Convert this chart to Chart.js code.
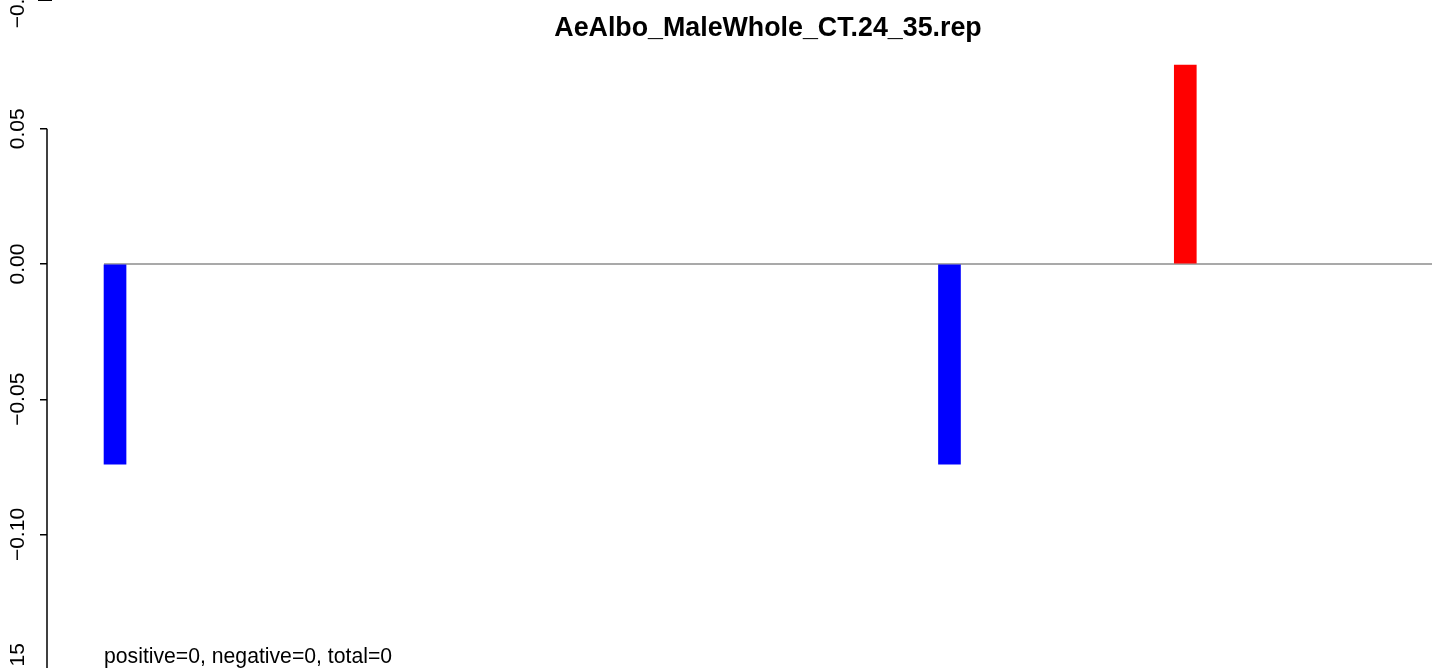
<!DOCTYPE html>
<html>
<head>
<meta charset="utf-8">
<script src="https://cdn.jsdelivr.net/npm/chart.js@4/dist/chart.umd.min.js"></script>
<style>
  html, body { margin: 0; padding: 0; background: #fff; }
  canvas { display: block; }
</style>
</head>
<body>
<canvas id="repChart" width="1439" height="668"></canvas>
<script>
// data
const chartTitle = "AeAlbo_MaleWhole_CT.24_35.rep";
const noteText = "positive=0, negative=0, total=0";
const positions = [7.5, 99.5, 125.5];
const values = [-0.074, -0.074, 0.0735];
const yTicks = [-0.15, -0.10, -0.05, 0.00, 0.05];
const yTickLabels = ["\u22120.15", "\u22120.10", "\u22120.05", "0.00", "0.05"];
const xMax = 152.7;
const yMin = -0.14935;
const yMax = 0.0976;

const FONT = "'Liberation Sans', Arial, Helvetica, sans-serif";
const BAR_W = 22;

const points = positions.map((p, i) => ({ x: p, y: values[i] }));

// draws the R-style bits: axis line, rotated labels, zero line, title, note
const rStyle = {
  id: "rStyle",
  beforeDatasetsDraw(chart) {
    const { ctx, chartArea } = chart;
    const xs = chart.scales.x;
    const ys = chart.scales.y;
    const left = xs.getPixelForValue(positions[0]) - BAR_W / 2;
    const y0 = ys.getPixelForValue(0);
    ctx.save();
    ctx.strokeStyle = "#8c8c8c";
    ctx.lineWidth = 1.6;
    ctx.beginPath();
    ctx.moveTo(left, y0);
    ctx.lineTo(chartArea.right, y0);
    ctx.stroke();
    ctx.restore();
  },
  afterDraw(chart) {
    const { ctx, chartArea } = chart;
    const xs = chart.scales.x;
    const ys = chart.scales.y;
    const H = chart.height;
    const axisX = ys.right;
    const left = xs.getPixelForValue(positions[0]) - BAR_W / 2;

    ctx.save();
    // axis line from top tick to bottom tick
    ctx.strokeStyle = "#000";
    ctx.lineWidth = 1.5;
    ctx.beginPath();
    ctx.moveTo(axisX, ys.getPixelForValue(yTicks[yTicks.length - 1]));
    ctx.lineTo(axisX, ys.getPixelForValue(yTicks[0]));
    ctx.stroke();

    // rotated tick labels (the lowest one wraps round to the top edge)
    ctx.fillStyle = "#000";
    ctx.font = "21px " + FONT;
    ctx.textAlign = "center";
    ctx.textBaseline = "alphabetic";
    yTicks.forEach((v, i) => {
      const py = ys.getPixelForValue(v);
      const spots = py > H ? [py, py - H] : [py];
      spots.forEach((sy) => {
        ctx.save();
        ctx.translate(24, sy);
        ctx.rotate(-Math.PI / 2);
        ctx.fillText(yTickLabels[i], 0, 0);
        ctx.restore();
      });
      if (py > H) {
        ctx.beginPath();
        ctx.moveTo(axisX - 9, py - H - 1.5);
        ctx.lineTo(axisX + 5, py - H - 1.5);
        ctx.stroke();
      }
    });

    // title centred on the plot region
    ctx.font = "bold 26.8px " + FONT;
    ctx.textAlign = "center";
    ctx.fillText(chartTitle, (left + chartArea.right) / 2, 36);

    // note at the bottom
    ctx.font = "21.2px " + FONT;
    ctx.textAlign = "left";
    ctx.fillText(noteText, left, 663);
    ctx.restore();
  },
};

new Chart(document.getElementById("repChart"), {
  type: "bar",
  data: {
    datasets: [
      {
        data: points,
        backgroundColor: (c) => (c.raw && c.raw.y < 0 ? "#0000ff" : "#ff0000"),
        borderWidth: 0,
        barThickness: BAR_W,
      },
    ],
  },
  options: {
    responsive: false,
    animation: false,
    devicePixelRatio: 1,
    layout: { padding: { top: 0, bottom: 0, left: 0, right: 7 } },
    plugins: {
      legend: { display: false },
      title: { display: false },
      tooltip: { enabled: false },
    },
    scales: {
      x: {
        type: "linear",
        min: 0,
        max: xMax,
        offset: false,
        grid: { offset: false },
        display: false,
      },
      y: {
        type: "linear",
        min: yMin,
        max: yMax,
        afterBuildTicks(scale) {
          scale.ticks = yTicks.map((v) => ({ value: v }));
        },
        afterFit(scale) {
          scale.width = 47;
        },
        ticks: { display: false },
        border: { display: false },
        grid: {
          drawOnChartArea: false,
          drawTicks: true,
          tickLength: 7,
          color: "#000",
          lineWidth: 1.5,
        },
      },
    },
  },
  plugins: [rStyle],
});
</script>
</body>
</html>
